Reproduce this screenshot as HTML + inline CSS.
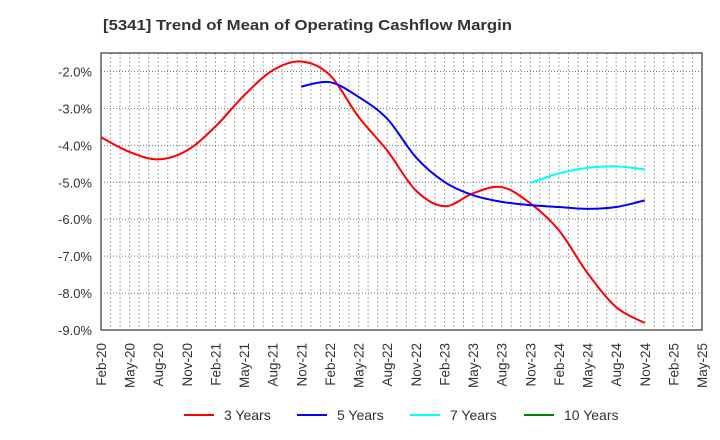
<!DOCTYPE html>
<html><head><meta charset="utf-8"><style>
body{margin:0;background:#fff;}
svg{display:block;font-family:"Liberation Sans",sans-serif;}
</style></head><body>
<svg id="chart" width="720" height="440">
<text x="103" y="30" font-size="15" font-weight="bold" fill="#333" textLength="409" lengthAdjust="spacingAndGlyphs">[5341]  Trend of Mean of Operating Cashflow Margin</text>
<g id="grid"></g><g id="axes"></g><g id="series"></g><g id="legend"></g>
</svg>
<script>
const xLabels=["Feb-20","May-20","Aug-20","Nov-20","Feb-21","May-21","Aug-21","Nov-21","Feb-22","May-22","Aug-22","Nov-22","Feb-23","May-23","Aug-23","Nov-23","Feb-24","May-24","Aug-24","Nov-24","Feb-25","May-25"];
const yTicks=[-2,-3,-4,-5,-6,-7,-8,-9];
const y3=[-3.78,-4.18,-4.38,-4.14,-3.49,-2.65,-1.97,-1.73,-2.1,-3.23,-4.14,-5.22,-5.65,-5.3,-5.13,-5.57,-6.3,-7.46,-8.38,-8.81];
const start5=7;
const y5=[-2.41,-2.29,-2.69,-3.28,-4.32,-4.99,-5.35,-5.53,-5.62,-5.67,-5.72,-5.67,-5.49];
const start7=15;
const y7=[-5.02,-4.76,-4.61,-4.57,-4.65];
const y10=[];
const L=101,R=702,T=53,B=330,yMin=-9,yMax=-1.5;
const NS="http://www.w3.org/2000/svg";
const xq=i=>L+i*3*(R-L)/63;
const yv=v=>T+(yMax-v)/(yMax-yMin)*(B-T);
function mk(t,a,p){const e=document.createElementNS(NS,t);for(const k in a)e.setAttribute(k,a[k]);p.appendChild(e);return e;}
const grid=document.getElementById('grid'),axes=document.getElementById('axes'),series=document.getElementById('series'),legend=document.getElementById('legend');
for(let m=1;m<63;m++){const x=L+m*(R-L)/63;
const g=mk('line',{x1:x,x2:x,y1:T,y2:B,stroke:'#aaa','stroke-dasharray':'2,2','stroke-width':1},grid);

}
for(let v=-2;v>=-9;v-=1){const y=yv(v);
const g=mk('line',{x1:L,x2:R,y1:y,y2:y,stroke:'#777','stroke-dasharray':'1,2','stroke-width':1},grid);

}
const fr=mk('rect',{x:L,y:T,width:R-L,height:B-T,fill:'none',stroke:'#444','stroke-width':1.3},axes);


yTicks.forEach(v=>{const t=mk('text',{x:L-9,y:yv(v)+5,'text-anchor':'end','font-size':13,fill:'#333'},axes);t.textContent=v.toFixed(1)+'%';

});
xLabels.forEach((s,i)=>{const x=xq(i)+5,y=B+13;const t=mk('text',{x:x,y:y,'text-anchor':'end','font-size':13.5,fill:'#333',transform:`rotate(-90 ${x} ${y})`},axes);t.textContent=s;

});
function path(start,vals){const p=vals.map((v,i)=>[xq(start+i),yv(v)]);if(p.length<2)return '';
let d=`M${p[0][0]},${p[0][1]}`;for(let i=0;i<p.length-1;i++){const p0=p[i-1]||p[i],p1=p[i],p2=p[i+1],p3=p[i+2]||p2;
d+=` C${p1[0]+(p2[0]-p0[0])/6},${p1[1]+(p2[1]-p0[1])/6} ${p2[0]-(p3[0]-p1[0])/6},${p2[1]-(p3[1]-p1[1])/6} ${p2[0]},${p2[1]}`;}return d;}
[[0,y3,'#ff0000','series-3-years'],[start5,y5,'#0000ff','series-5-years'],[start7,y7,'#00ffff','series-7-years'],[0,y10,'#008000','series-10-years']].forEach(([s,v,c,n])=>{
const d=path(s,v);if(!d)return;const e=mk('path',{d:d,fill:'none',stroke:c,'stroke-width':2},series);

});
[["3 Years",'#ff0000',184],["5 Years",'#0000ff',297],["7 Years",'#00ffff',410],["10 Years",'#008000',524]].forEach(([s,c,x])=>{
const g=mk('g',{},legend);


mk('line',{x1:x,x2:x+30,y1:415,y2:415,stroke:c,'stroke-width':2},g);
const t=mk('text',{x:x+40,y:420,'font-size':14,fill:'#333'},g);t.textContent=s;});
</script>
</body></html>
